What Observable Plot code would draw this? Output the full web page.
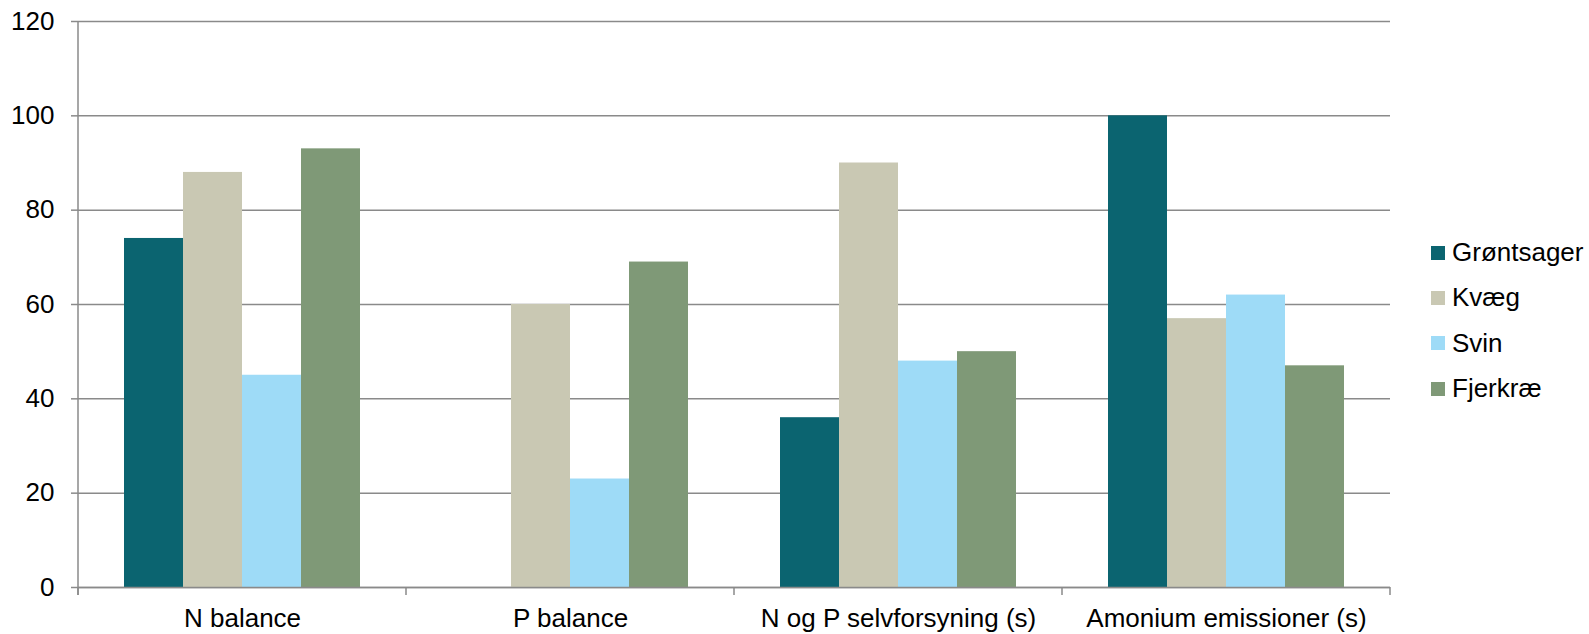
<!DOCTYPE html>
<html>
<head>
<meta charset="utf-8">
<script src="https://cdn.jsdelivr.net/npm/d3@7"></script>
<script src="https://cdn.jsdelivr.net/npm/@observablehq/plot@0.6"></script>
<style>
  html, body { margin: 0; padding: 0; background: #fff; }
  #wrap { position: relative; width: 1589px; height: 634px; font-family: "Liberation Sans", Arial, sans-serif; }
  #legend { position: absolute; left: 1431px; top: 230px; }
  .row { display: flex; align-items: center; height: 45.3px; font-size: 26px; color: #000; }
  .sw { width: 14px; height: 14px; margin-right: 7px; }
</style>
</head>
<body>
<div id="wrap"></div>
<script>
const categories = ["N balance", "P balance", "N og P selvforsyning (s)", "Amonium emissioner (s)"];
const series = ["Grøntsager", "Kvæg", "Svin", "Fjerkræ"];
const colors = ["#0b6470", "#c9c8b3", "#9edbf7", "#7f9977"];
const grontsager = [74, 0, 36, 100];
const kvaeg = [88, 60, 90, 57];
const svin = [45, 23, 48, 62];
const fjerkrae = [93, 69, 50, 47];
const yTicks = [0, 20, 40, 60, 80, 100, 120];

const seriesValues = [grontsager, kvaeg, svin, fjerkrae];
const data = [];
categories.forEach((c, i) => series.forEach((s, j) => data.push({category: c, series: s, value: seriesValues[j][i]})));

const grid = "#8a8a8a";
const chart = Plot.plot({
  width: 1420,
  height: 634,
  marginLeft: 77,
  marginRight: 30,
  marginTop: 21,
  marginBottom: 47,
  style: {fontFamily: "'Liberation Sans', Arial, sans-serif", fontSize: "26px", color: "#000", background: "#fff"},
  fx: {domain: categories, padding: 0, label: null},
  x: {domain: series, paddingInner: 0, paddingOuter: 0.758, axis: null},
  y: {domain: [0, 120], label: null},
  color: {domain: series, range: colors},
  marks: [
    Plot.gridY(yTicks, {stroke: grid, strokeOpacity: 1, strokeWidth: 1.5}),
    Plot.barY(data, {fx: "category", x: "series", y: "value", fill: "series", inset: 0}),
    Plot.axisY(yTicks, {tickSize: 7, tickPadding: 17, stroke: grid, strokeWidth: 1.5, label: null, fill: "#000"}),
    Plot.axisFx({anchor: "bottom", tickSize: 0, tickPadding: 21, label: null, fill: "#000"}),
    Plot.ruleY([0], {stroke: grid, strokeWidth: 1.5})
  ]
});

// axis line and category boundary ticks, positioned with the plot's own scales
const fx = chart.scale("fx");
const y = chart.scale("y");
const svg = d3.select(chart.tagName === "svg" ? chart : chart.querySelector("svg"));
const y0 = y.apply(0), yTop = y.apply(120);
const edges = categories.map(c => fx.apply(c));
edges.push(fx.apply(categories[categories.length - 1]) + fx.bandwidth);
const g = svg.append("g").attr("stroke", grid).attr("stroke-width", 1.5);
g.append("line").attr("x1", edges[0]).attr("x2", edges[0]).attr("y1", yTop).attr("y2", y0 + 8);
edges.forEach(e => g.append("line").attr("x1", e).attr("x2", e).attr("y1", y0).attr("y2", y0 + 8));

const wrap = document.getElementById("wrap");
wrap.appendChild(chart);
const legend = document.createElement("div");
legend.id = "legend";
series.forEach((s, i) => {
  const row = document.createElement("div");
  row.className = "row";
  const sw = document.createElement("span");
  sw.className = "sw";
  sw.style.background = colors[i];
  const t = document.createElement("span");
  t.textContent = s;
  row.appendChild(sw);
  row.appendChild(t);
  legend.appendChild(row);
});
wrap.appendChild(legend);
</script>
</body>
</html>
